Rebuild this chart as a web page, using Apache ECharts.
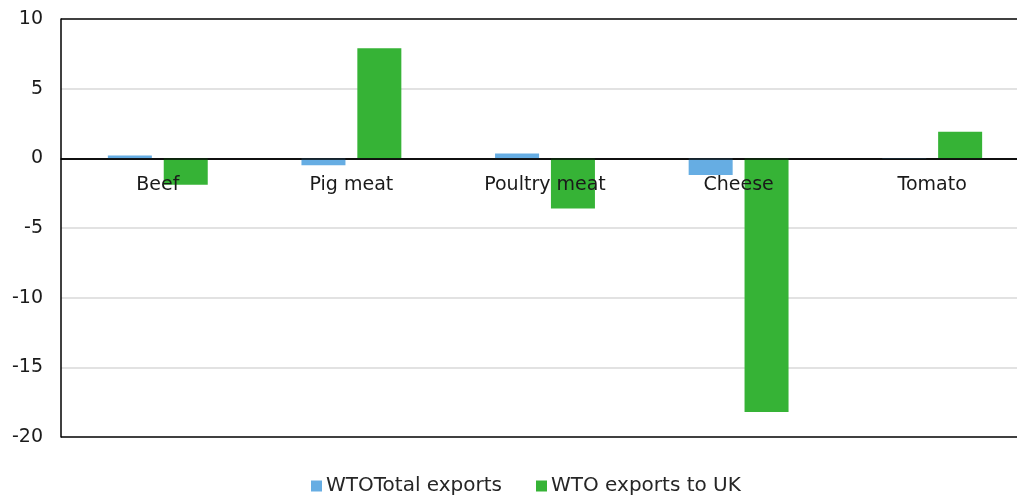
<!DOCTYPE html>
<html>
<head>
<meta charset="utf-8">
<script src="https://cdn.jsdelivr.net/npm/echarts@6/dist/echarts.min.js"></script>
<style>
  html, body { margin: 0; padding: 0; background: #fff; overflow: hidden; }
  #chart { width: 1029px; height: 497px; }
</style>
</head>
<body>
<div id="chart"></div>
<script>
// Product categories and the two change series
const categories = ['Beef', 'Pig meat', 'Poultry meat', 'Cheese', 'Tomato'];
const totalExports = [0.2, -0.5, 0.35, -1.2, -0.05];
const exportsToUK = [-1.9, 7.9, -3.6, -18.2, 1.9];
const seriesNames = ['WTOTotal exports', 'WTO exports to UK'];
const yTicks = { min: -20, max: 10, step: 5 };

const FONT = 'DejaVu Sans, Verdana, sans-serif';
const GRID = { left: 61, right: 0, top: 19, bottom: 60 };
const plotHeight = 497 - GRID.top - GRID.bottom;
// category axis sits on the zero line, labels included
const zeroOffset = -plotHeight * (0 - yTicks.min) / (yTicks.max - yTicks.min);

const chart = echarts.init(document.getElementById('chart'));

chart.setOption({
  animation: false,
  textStyle: { fontFamily: FONT },
  grid: Object.assign({ containLabel: false }, GRID),
  legend: {
    top: 476,
    left: 311,
    padding: 0,
    itemWidth: 11,
    itemHeight: 11,
    itemGap: 34,
    icon: 'rect',
    textStyle: { fontSize: 20, color: '#262626', fontFamily: FONT, padding: [0, 0, 0, -1] },
    data: seriesNames
  },
  xAxis: {
    type: 'category',
    data: categories,
    z: 10,
    position: 'bottom',
    offset: zeroOffset,
    axisLine: { onZero: false, lineStyle: { color: '#000', width: 1.5 } },
    axisTick: { show: false },
    axisLabel: { margin: 17, fontSize: 19, color: '#1a1a1a', fontFamily: FONT }
  },
  yAxis: {
    type: 'value',
    min: yTicks.min,
    max: yTicks.max,
    interval: yTicks.step,
    axisLine: { show: true, lineStyle: { color: '#000', width: 1.5 } },
    axisTick: { show: false },
    axisLabel: { margin: 18, fontSize: 19, color: '#1a1a1a', fontFamily: FONT },
    splitLine: {
      show: true,
      lineStyle: {
        color: ['#000', '#d9d9d9', '#d9d9d9', '#d9d9d9', '#000', '#d9d9d9', '#000'],
        width: 1.5
      }
    }
  },
  series: [
    {
      name: seriesNames[0],
      type: 'bar',
      data: totalExports,
      barWidth: 44,
      barGap: '27%',
      itemStyle: { color: '#66ade3' }
    },
    {
      name: seriesNames[1],
      type: 'bar',
      data: exportsToUK,
      barWidth: 44,
      barGap: '27%',
      itemStyle: { color: '#36b336' }
    }
  ]
});
</script>
</body>
</html>
